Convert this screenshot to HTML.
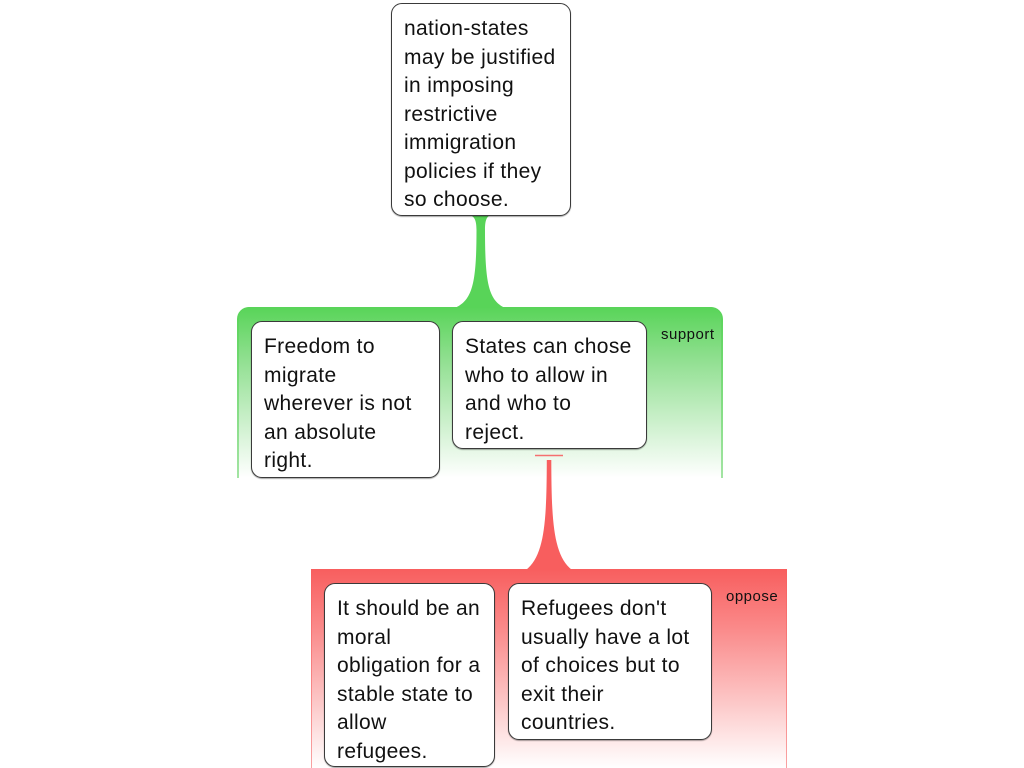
<!DOCTYPE html>
<html>
<head>
<meta charset="utf-8">
<style>
html,body{margin:0;padding:0;background:#fff;}
body{width:1024px;height:768px;position:relative;overflow:hidden;font-family:"Liberation Sans",Arial,sans-serif;}
.node{position:absolute;box-sizing:border-box;background:#fff;border:1px solid #3a3a3a;border-radius:11px;box-shadow:0 1px 1px rgba(0,0,0,.35);padding:11px 0 0 12px;font-size:21px;line-height:28.5px;letter-spacing:0.35px;color:#111;white-space:nowrap;}
.lbl{position:absolute;font-size:15px;letter-spacing:0.5px;color:#111;line-height:15px;}
</style>
</head>
<body>

<!-- green group -->
<div style="position:absolute;left:237px;top:307px;width:486px;height:171px;border-radius:12px 12px 0 0;background:linear-gradient(to bottom,#58d458 0%,#a3e4a3 100%);"></div>
<div style="position:absolute;left:239px;top:307px;width:482px;height:171px;border-radius:11px 11px 0 0;background:linear-gradient(to bottom,#58d458 0%,#8fdf8f 30%,#c8efc8 65%,#ffffff 100%);"></div>

<!-- red group -->
<div style="position:absolute;left:311px;top:569px;width:476px;height:199px;background:linear-gradient(to bottom,#f85e5e 0%,#f9a2a2 100%);"></div>
<div style="position:absolute;left:312px;top:569px;width:474px;height:199px;background:linear-gradient(to bottom,#f85e5e 0%,#fa8a8a 30%,#fcc4c4 65%,#ffffff 100%);"></div>

<svg width="1024" height="768" style="position:absolute;left:0;top:0;">
  <!-- green connector -->
  <path d="M466 214 C474 215 476.5 219 476.5 230 C476.5 285 472 300 455 308 L505 308 C489 300 485 285 485 230 C485 219 487 215 494 214 Z" fill="#58d458"/>
  <!-- red T bar -->
  <line x1="535" y1="455.5" x2="563" y2="455.5" stroke="#f57070" stroke-width="1.5"/>
  <!-- red connector -->
  <path d="M546.8 460 L551.3 460 C551.5 520 553 555 572 570 L526 570 C545 555 546.6 520 546.8 460 Z" fill="#f85e5e"/>
</svg>

<div class="lbl" style="left:661px;top:327px;">support</div>
<div class="lbl" style="left:726px;top:589px;">oppose</div>

<div class="node" style="left:391px;top:3px;width:180px;height:213px;">nation-states<br>may be justified<br>in imposing<br>restrictive<br>immigration<br>policies if they<br>so choose.</div>

<div class="node" style="left:251px;top:321px;width:189px;height:157px;">Freedom to<br>migrate<br>wherever is not<br>an absolute<br>right.</div>

<div class="node" style="left:452px;top:321px;width:195px;height:128px;">States can chose<br>who to allow in<br>and who to<br>reject.</div>

<div class="node" style="left:324px;top:583px;width:171px;height:184px;">It should be an<br>moral<br>obligation for a<br>stable state to<br>allow<br>refugees.</div>

<div class="node" style="left:508px;top:583px;width:204px;height:157px;">Refugees don't<br>usually have a lot<br>of choices but to<br>exit their<br>countries.</div>

</body>
</html>
